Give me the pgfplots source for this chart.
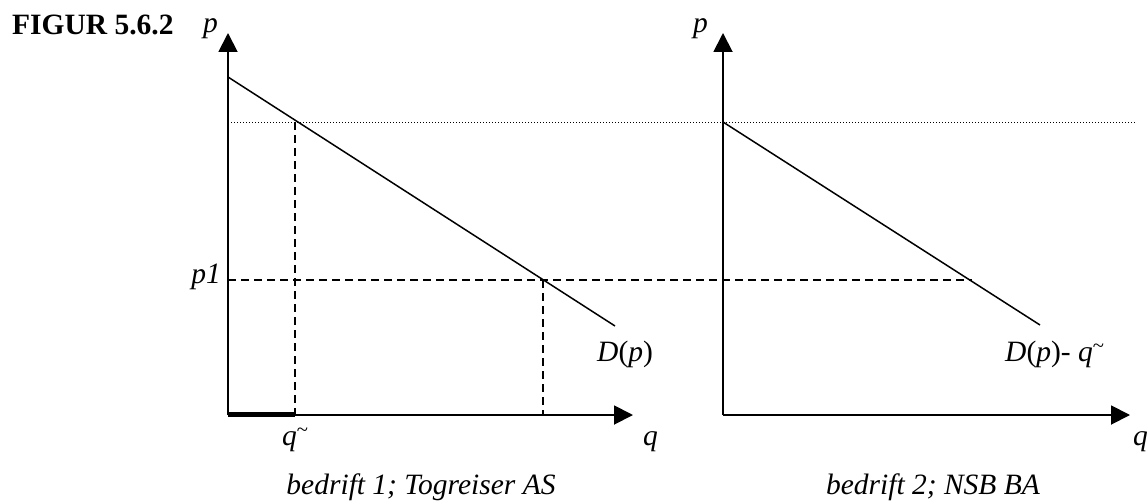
\documentclass[border=0pt]{standalone}
\usepackage{fontspec}
\setmainfont{Liberation Serif}
\usepackage{pgfplots}
\pgfplotsset{compat=1.18}
\usetikzlibrary{arrows.meta}
\newcommand\lab{\fontsize{29.5bp}{35bp}\selectfont}
\newcommand\qt{\textit{q}\textsuperscript{\~{}}}
\begin{document}
\begin{tikzpicture}
\begin{axis}[
  width=1148bp, height=501bp, scale only axis,
  xmin=0, xmax=1148, ymin=0, ymax=501, y dir=reverse,
  axis lines=none, ticks=none, clip=false,
  every axis plot/.append style={black},
]
% axes, firm 1
\addplot[line width=1.9bp, -{Triangle[length=19bp,width=19bp]}] coordinates {(228,415) (228,33)};
\addplot[line width=1.9bp, -{Triangle[length=19bp,width=19bp]}] coordinates {(228,415) (633,415)};
% axes, firm 2
\addplot[line width=1.9bp, -{Triangle[length=19bp,width=19bp]}] coordinates {(723,415) (723,33)};
\addplot[line width=1.9bp, -{Triangle[length=19bp,width=19bp]}] coordinates {(723,415) (1130,415)};
% dotted price line
\addplot[line width=0.9bp, dash pattern=on 1.2bp off 1.8bp] coordinates {(228,122) (1136,122)};
% demand firm 1
\addplot[line width=1.5bp] coordinates {(228,77) (615,326)};
% demand firm 2 (shifted)
\addplot[line width=1.5bp] coordinates {(723,122) (1040,325)};
% dashed helper lines
\addplot[line width=1.3bp, dash pattern=on 8bp off 5bp] coordinates {(295,122) (295,415)};
\addplot[line width=1.3bp, dash pattern=on 8bp off 5bp] coordinates {(228,280) (972,280)};
\addplot[line width=1.3bp, dash pattern=on 8bp off 5bp] coordinates {(543,280) (543,415)};
% thick segment q~
\addplot[line width=5bp] coordinates {(228,414) (295,414)};
% labels
\node[anchor=base west, inner sep=0] at (axis cs:12,35) {\lab\bfseries FIGUR 5.6.2};
\node[anchor=base west, inner sep=0] at (axis cs:203,33) {\lab\textit{p}};
\node[anchor=base west, inner sep=0] at (axis cs:693,33) {\lab\textit{p}};
\node[anchor=base east, inner sep=0] at (axis cs:221,283) {\lab\textit{p1}};
\node[anchor=base west, inner sep=0] at (axis cs:282,445) {\lab\qt};
\node[anchor=base west, inner sep=0] at (axis cs:643,445) {\lab\textit{q}};
\node[anchor=base west, inner sep=0] at (axis cs:1133,445) {\lab\textit{q}};
\node[anchor=base west, inner sep=0] at (axis cs:597,361) {\lab\textit{D}(\textit{p})};
\node[anchor=base west, inner sep=0] at (axis cs:1005,361) {\lab\textit{D}(\textit{p})- \qt};
\node[anchor=base, inner sep=0] at (axis cs:421,494) {\lab\textit{bedrift 1; Togreiser AS}};
\node[anchor=base, inner sep=0] at (axis cs:933,494) {\lab\textit{bedrift 2; NSB BA}};
\end{axis}
\pgfresetboundingbox
\path (0,0) rectangle (1148bp,501bp);
\end{tikzpicture}
\end{document}
